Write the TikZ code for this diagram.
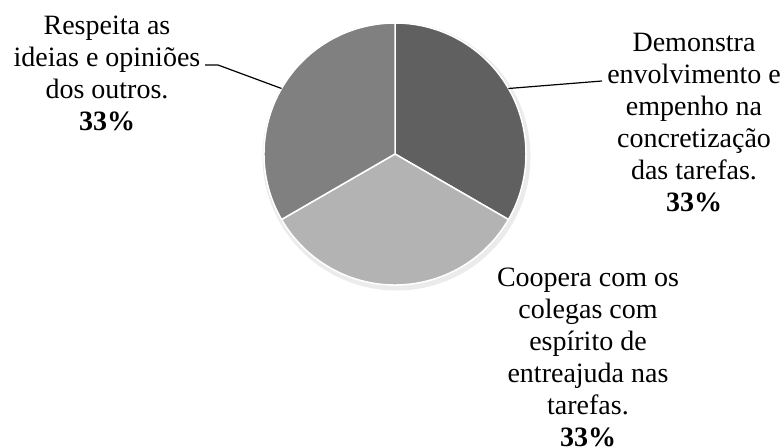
\documentclass[tikz,border=0pt]{standalone}
\usepackage{fontspec}
\setmainfont{Liberation Serif}
\usetikzlibrary{calc}
\definecolor{sliceR}{HTML}{606060}
\definecolor{sliceB}{HTML}{B3B3B3}
\definecolor{sliceL}{HTML}{808080}
\begin{document}
\begin{tikzpicture}[x=1pt,y=1pt,
  lbl/.style={align=center, font=\fontsize{28}{32}\selectfont, inner sep=0pt, anchor=north},
  leader/.style={draw=black, line width=1.2pt},
  slice/.style={draw=white, line width=1.5pt, line join=round}]
\useasboundingbox (0,0) rectangle (784,447);
\coordinate (c) at (395,293);
\fill[black!8] ($(c)+(1.5,-2.5)$) circle (134);
\filldraw[slice, fill=sliceR] (c) -- ++(90:131) arc[start angle=90, end angle=-30, radius=131] -- cycle;
\filldraw[slice, fill=sliceB] (c) -- ++(-30:131) arc[start angle=-30, end angle=-150, radius=131] -- cycle;
\filldraw[slice, fill=sliceL] (c) -- ++(210:131) arc[start angle=210, end angle=90, radius=131] -- cycle;
\node[lbl] (lblL) at (107,431) {Respeita as\\ideias e opiniões\\dos outros.\\\textbf{33\%}};
\node[lbl] (lblR) at (694,414.5) {Demonstra\\envolvimento e\\empenho na\\concretização\\das tarefas.\\\textbf{33\%}};
\node[lbl] (lblB) at (588,179) {Coopera com os\\colegas com\\espírito de\\entreajuda nas\\tarefas.\\\textbf{33\%}};
\coordinate (eL) at ($(c)+(150:131)$);
\coordinate (eR) at ($(c)+(30:131)$);
\coordinate (lL) at (205,382);
\coordinate (kL) at (218,382);
\coordinate (lR) at (602,366);
\draw[leader] (lL) -- (kL) -- (eL);
\draw[leader] (eR) -- (lR);
\end{tikzpicture}
\end{document}
